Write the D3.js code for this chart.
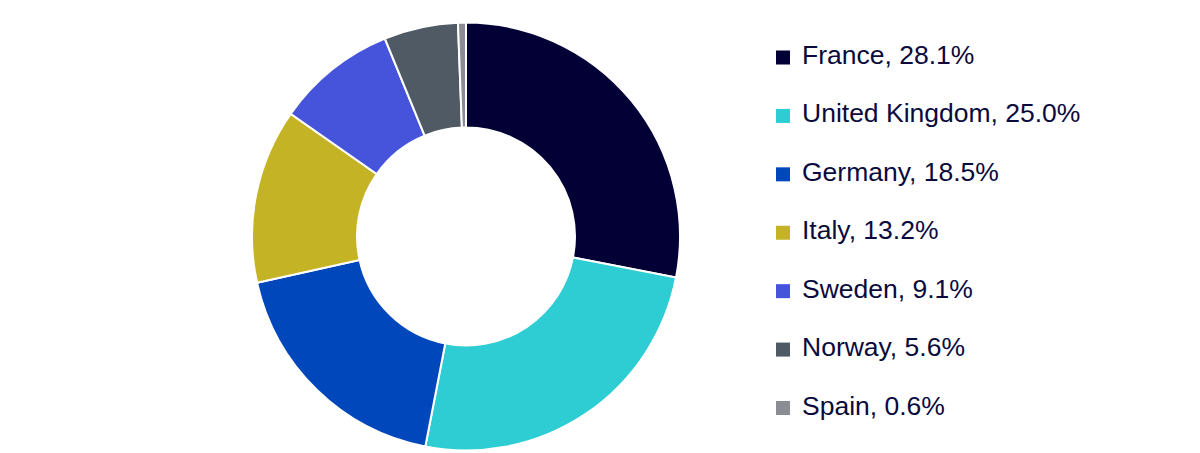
<!DOCTYPE html>
<html>
<head>
<meta charset="utf-8">
<script src="https://cdn.jsdelivr.net/npm/d3@7"></script>
<style>
  html, body { margin: 0; padding: 0; background: #fff; }
  svg text { font-family: "Liberation Sans", Arial, sans-serif; }
</style>
</head>
<body>
<div id="chart"></div>
<script>
// country share data
const countries = ["France", "United Kingdom", "Germany", "Italy", "Sweden", "Norway", "Spain"]
const shares = [28.1, 25.0, 18.5, 13.2, 9.1, 5.6, 0.6]
const colors = ["#020035", "#2ECCD3", "#0047BB", "#C4B325", "#4654DC", "#4F5A65", "#8C8C94"]

let width = 1200, height = 453
let cx = 466, cy = 236.5
let outerR = 214, innerR = 109

let svg = d3.select("#chart")
    .append("svg")
    .attr("width", width)
    .attr("height", height)

let data = countries.map((c, i) => ({ name: c, value: shares[i], color: colors[i] }))

let pie = d3.pie()
    .value(d => d.value)
    .sort(null)

let arc = d3.arc()
    .innerRadius(innerR)
    .outerRadius(outerR)

//donut slices
svg.append("g")
    .attr("transform", "translate(" + cx + "," + cy + ")")
    .selectAll("path")
    .data(pie(data))
    .enter()
    .append("path")
    .attr("d", arc)
    .attr("fill", d => d.data.color)
    .attr("stroke", "#fff")
    .attr("stroke-width", 2)

//legend
let rowY = d3.scaleLinear().domain([0, countries.length - 1]).range([57.5, 408])

let legend = svg.selectAll(".legendRow")
    .data(data)
    .enter()
    .append("g")
    .attr("class", "legendRow")
    .attr("transform", (d, i) => "translate(776," + rowY(i) + ")")

legend.append("rect")
    .attr("x", 0)
    .attr("y", -7)
    .attr("width", 14)
    .attr("height", 14)
    .attr("fill", d => d.color)

legend.append("text")
    .attr("x", 26)
    .attr("y", 6.5)
    .attr("font-size", 26.5)
    .attr("fill", "#0A0A3C")
    .text(d => d.name + ", " + d.value.toFixed(1) + "%")
</script>
</body>
</html>
